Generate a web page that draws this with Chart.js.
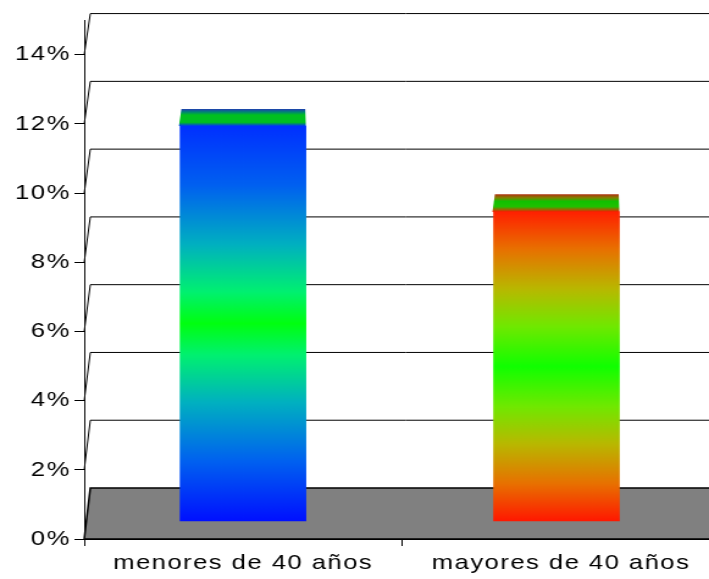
<!DOCTYPE html>
<html>
<head>
<meta charset="utf-8">
<script src="https://cdn.jsdelivr.net/npm/chart.js@4.4.1/dist/chart.umd.min.js"></script>
<style>
  html, body { margin: 0; padding: 0; background: #fff; overflow: hidden; }
</style>
</head>
<body>
<!-- the original picture is stretched sideways and cut on the right, so the canvas is too -->
<canvas id="chart" width="590" height="579" style="display:block;width:720px;height:579px"></canvas>
<script>
const categories = ["menores de 40 años", "mayores de 40 años"];
const values = [11.5, 9.0];
const yTicks = [0, 2, 4, 6, 8, 10, 12, 14];

// bar colours, bottom -> top (front face) and front -> back (top face)
const frontStops = [
  [[0, "#0010ff"], [0.15, "#0060f0"], [0.3, "#00b0c0"], [0.42, "#00f070"], [0.5, "#00ff10"],
   [0.58, "#00f070"], [0.7, "#00b0c0"], [0.85, "#0060f0"], [1, "#0030ff"]],
  [[0, "#ff1800"], [0.12, "#e87000"], [0.25, "#b8b800"], [0.37, "#70e800"], [0.5, "#10ff00"],
   [0.63, "#70e800"], [0.75, "#b8b800"], [0.88, "#e87000"], [1, "#ff2000"]],
];
const topStops = [
  [[0, "#0030ff"], [0.12, "#008080"], [0.22, "#00c020"], [0.65, "#00c020"], [0.82, "#008870"], [1, "#2040b0"]],
  [[0, "#ff1800"], [0.12, "#a06000"], [0.3, "#20c000"], [0.6, "#10c000"], [0.8, "#808000"], [1, "#b03010"]],
];

const font = { family: "'Liberation Sans', Arial, sans-serif", size: 21 };
const DX = 5;

// depth of the 3d box (in px) at a given height
function depthAt(y, a) {
  return 40.3 + (y - a.top) / (a.bottom - a.top) * 10.7;
}

const box3d = {
  id: "box3d",
  beforeDraw(chart) {
    chart.ctx.letterSpacing = "1.2px";
  },
  beforeDatasetsDraw(chart) {
    const { ctx, chartArea: a, scales: { y } } = chart;
    const W = chart.width + 2;
    ctx.save();
    ctx.strokeStyle = "#000";
    ctx.lineWidth = 1;
    yTicks.forEach((v) => {
      if (v === 0) return;
      const yf = y.getPixelForValue(v);
      const yb = yf - depthAt(yf, a);
      ctx.beginPath();
      ctx.moveTo(a.left, yf);
      ctx.lineTo(a.left + DX, yb);
      ctx.lineTo(W, yb);
      ctx.stroke();
    });
    // floor
    const yf = y.getPixelForValue(0);
    const yb = yf - depthAt(yf, a);
    ctx.beginPath();
    ctx.moveTo(a.left, yf);
    ctx.lineTo(a.left + DX, yb);
    ctx.lineTo(W, yb);
    ctx.lineTo(W, yf);
    ctx.closePath();
    ctx.fillStyle = "#808080";
    ctx.fill();
    ctx.lineWidth = 1.5;
    ctx.stroke();
    ctx.restore();
  },
  afterDatasetsDraw(chart) {
    const { ctx, chartArea: a } = chart;
    ctx.save();
    chart.getDatasetMeta(0).data.forEach((bar, i) => {
      const { x, y, width } = bar.getProps(["x", "y", "width"], true);
      const d = 0.4 * depthAt(y, a);
      const l = x - width / 2, r = x + width / 2;
      const g = ctx.createLinearGradient(0, y, 0, y - d);
      topStops[i].forEach(([o, c]) => g.addColorStop(o, c));
      ctx.beginPath();
      ctx.moveTo(l - 1, y);
      ctx.lineTo(r, y);
      ctx.lineTo(r - 0.5, y - d);
      ctx.lineTo(l + 1, y - d);
      ctx.closePath();
      ctx.fillStyle = g;
      ctx.fill();
    });
    ctx.restore();
  },
};

new Chart(document.getElementById("chart"), {
  type: "bar",
  data: {
    labels: categories,
    datasets: [{
      data: values.map((v, i) => ({ x: i, y: v })),
      xAxisID: "x2",
      yAxisID: "y2",
      borderWidth: 0,
      barThickness: 103,
      backgroundColor(c) {
        const s = c.chart.scales.y2;
        if (!s || c.type !== "data") return "#0020ff";
        const y0 = s.getPixelForValue(0);
        const y1 = s.getPixelForValue(values[c.dataIndex]);
        if (!isFinite(y0) || !isFinite(y1)) return "#0020ff";
        const g = c.chart.ctx.createLinearGradient(0, y0, 0, y1);
        frontStops[c.dataIndex].forEach(([o, col]) => g.addColorStop(o, col));
        return g;
      },
    }],
  },
  options: {
    responsive: false,
    animation: false,
    events: [],
    layout: { padding: { top: 20, right: 0, left: 0, bottom: 0 } },
    plugins: { legend: { display: false }, tooltip: { enabled: false } },
    scales: {
      x: {
        type: "category",
        grid: { drawOnChartArea: false, tickLength: 7, color: "#000", offset: true },
        border: { color: "#000" },
        ticks: { color: "#000", font, padding: 5, maxRotation: 0, autoSkip: false },
        afterFit(s) { s.height = 40; },
      },
      y: {
        min: 0,
        max: 15,
        afterBuildTicks(s) { s.ticks = yTicks.map((v) => ({ value: v })); },
        grid: { drawOnChartArea: false, tickLength: 8, color: "#000" },
        border: { color: "#000" },
        ticks: { color: "#000", font, padding: 3, callback: (v) => v + "%" },
        afterFit(s) { s.width = 69; },
      },
      // the bars stand a bit inside the floor (3d depth), so they get their own scales
      x2: { type: "linear", display: false, offset: false, grace: 0, min: -0.5065, max: 1.5215 },
      y2: { display: false, min: -0.525, max: 14.59 },
    },
  },
  plugins: [box3d],
});
</script>
</body>
</html>
